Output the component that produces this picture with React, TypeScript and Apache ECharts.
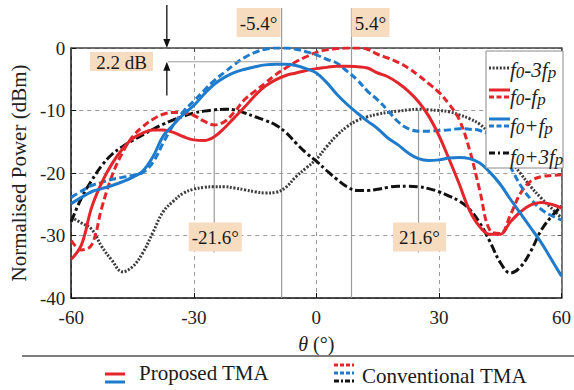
import React, { useEffect, useRef } from "react";
import * as echarts from "echarts";

// Scan angle (degrees)
const theta = [
  -60, -57.5, -55, -52.5, -50, -47.5, -45, -42.5, -40, -37.5, -35, -32.5, -30,
  -27.5, -25, -22.5, -20, -17.5, -15, -12.5, -10, -7.5, -5, -2.5, 0, 2.5, 5,
  7.5, 10, 12.5, 15, 17.5, 20, 22.5, 25, 27.5, 30, 32.5, 35, 37.5, 40, 42.5, 45,
  47.5, 50, 52.5, 55, 57.5, 60,
];

// f0-3fp (gray dotted)
const f0Minus3fp = [
  -27.1, -28, -29, -31.8, -34, -35.8, -35, -32.8, -29.5, -26.2, -24.5, -23.2,
  -22.6, -22.3, -22.2, -22.2, -22.4, -22.7, -23, -23.2, -23.1, -22.3, -20.6,
  -19.2, -17.8, -15.8, -14, -12.6, -11.6, -11, -10.6, -10.3, -10.1, -9.9, -9.8,
  -9.9, -10, -10.2, -10.7, -11.3, -12.2, -13.8, -15.8, -18, -20.1, -22.2, -24,
  -25.6, -27.2,
];

// f0-fp proposed TMA (red solid)
const f0MinusFpProposed = [
  -33.8, -31.5, -25.5, -21.5, -18.5, -16.2, -14.5, -13.6, -13.1, -13.1, -13.5,
  -14.2, -14.7, -14.8, -14.2, -12.8, -11.1, -9.4, -7.6, -6.1, -5.1, -4.4, -4,
  -3.6, -3.3, -3.1, -2.9, -2.9, -3, -3.2, -4, -4.6, -5.6, -6.9, -8.6, -10.9,
  -14, -17.8, -21.8, -26, -28.6, -29.8, -29.8, -27.8, -26.2, -25.1, -24.7, -25,
  -25.6,
];

// f0-fp conventional TMA (red dashed)
const f0MinusFpConventional = [
  -30.8, -32.3, -31.5, -25.5, -20.4, -16.8, -14.2, -12.6, -11.4, -10.6, -10.3,
  -10.4, -10.8, -11.7, -12.3, -11.8, -10.2, -8.2, -6.9, -5.6, -4.3, -3.2, -2.2,
  -1.4, -0.7, -0.3, -0.1, 0, 0, -0.2, -1, -1.6, -2.3, -3.2, -4.4, -5.7, -7.1,
  -9, -11.5, -16.3, -22.8, -29.2, -29.7, -26.7, -23.2, -21.3, -20.6, -20.4,
  -20.3,
];

// f0+fp proposed TMA (blue solid)
const f0PlusFpProposed = [
  -24.9, -23.9, -23, -22.5, -22, -21.4, -20.7, -19.7, -17.4, -14.1, -12.3,
  -10.6, -9.2, -7.4, -5.8, -4.7, -3.9, -3.4, -3, -2.7, -2.6, -2.6, -2.8, -3.3,
  -4, -5.5, -7.4, -9, -10.4, -11.7, -12.9, -14.4, -15.5, -16.8, -17.7, -18,
  -17.9, -17.6, -17.5, -17.7, -18.4, -19.9, -21.8, -24.2, -26.5, -28.8, -31.1,
  -33.8, -36.5,
];

// f0+fp conventional TMA (blue dashed)
const f0PlusFpConventional = [
  -23.9, -22.9, -22, -21.5, -21, -20.7, -20.4, -19.9, -18.3, -15.2, -12.3,
  -10.1, -8.5, -6.8, -5.2, -3.9, -2.6, -1.5, -0.7, -0.2, 0, 0, -0.2, -0.6, -1.1,
  -1.8, -2.4, -3.7, -5.1, -6.9, -8.3, -10, -11.8, -12.9, -13.3, -13.3, -13.2,
  -13.1, -12.9, -13, -13.2, -14, -16, -19, -22, -24.2, -25.8, -26.8, -27.5,
];

// f0+3fp (black dash-dot)
const f0Plus3fp = [
  -27.8, -24, -21.2, -18.8, -17, -15.8, -14.8, -13.9, -13, -12.2, -11.5, -10.9,
  -10.4, -10.1, -9.9, -9.8, -9.9, -10.4, -11, -11.6, -12.3, -13.5, -15.2, -16.8,
  -18.1, -19.6, -21, -22.2, -22.8, -22.8, -22.6, -22.3, -22.1, -22.1, -22.2,
  -22.5, -23, -23.7, -24.5, -25.8, -28, -31, -34.3, -36, -35, -32.5, -29.2, -27,
  -25.3,
];

// Annotation values
const mainBeamAngles = [-8.5, 8.6];
const mainBeamLabels = ["-5.4°", "5.4°"];
const sideAngles = [-25, 25];
const sideLabels = ["-21.6°", "21.6°"];
const gainDiff = -2.2;

const RED = "#e3262b";
const BLUE = "#1f7bcc";
const BLACK = "#111111";
const GRAY = "#3c3c3c";
const SERIF = "Times New Roman";
const PEACH = "#f8dcc0";

const pairs = (ys: number[]) => theta.map((t, i) => [t, ys[i]]);

export default function App() {
  const ref = useRef<HTMLDivElement>(null);
  useEffect(() => {
    const chart = echarts.init(ref.current!, null, { renderer: "svg" });
    const lineSeries = (
      name: string,
      data: number[],
      color: string,
      type: any,
      z: number
    ) => ({
      name,
      type: "line",
      data: pairs(data),
      smooth: 0.4,
      showSymbol: false,
      symbol: "none",
      z,
      lineStyle: { color, width: 3, type, cap: "butt" },
      itemStyle: { color },
    });
    const option: any = {
      animation: false,
      backgroundColor: "#ffffff",
      textStyle: { fontFamily: SERIF },
      grid: { left: 64, right: 10, top: 48, bottom: 92 },
      xAxis: [
        {
          type: "value",
          min: -60,
          max: 60,
          interval: 30,
          name: "{it|θ} (°)",
          nameLocation: "middle",
          nameGap: 36,
          nameTextStyle: {
            fontFamily: SERIF,
            fontSize: 20,
            color: "#222",
            rich: { it: { fontFamily: SERIF, fontSize: 20, fontStyle: "italic", color: "#222" } },
          },
          axisLine: { onZero: false, lineStyle: { color: "#111", width: 1.5 } },
          axisTick: { inside: true, length: 5, lineStyle: { color: "#111" } },
          axisLabel: { fontFamily: SERIF, fontSize: 19, color: "#222", margin: 10 },
          splitLine: { show: true, lineStyle: { color: "#9a9a9a", type: [4, 4], width: 1 } },
        },
        {
          type: "value",
          position: "top",
          min: -60,
          max: 60,
          interval: 30,
          axisLine: { onZero: false, lineStyle: { color: "#444", width: 1.5 } },
          axisTick: { inside: true, length: 4, lineStyle: { color: "#444" } },
          axisLabel: { show: false },
          splitLine: { show: false },
        },
      ],
      yAxis: [
        {
          type: "value",
          min: -40,
          max: 0,
          interval: 10,
          name: "Normalised Power (dBm)",
          nameLocation: "middle",
          nameGap: 40,
          nameTextStyle: { fontFamily: SERIF, fontSize: 21, color: "#222" },
          axisLine: { onZero: false, lineStyle: { color: "#111", width: 1.5 } },
          axisTick: { inside: true, length: 5, lineStyle: { color: "#111" } },
          axisLabel: { fontFamily: SERIF, fontSize: 19, color: "#222", margin: 6 },
          splitLine: { show: true, lineStyle: { color: "#9a9a9a", type: [4, 4], width: 1 } },
        },
        {
          type: "value",
          position: "right",
          min: -40,
          max: 0,
          interval: 10,
          axisLine: { onZero: false, lineStyle: { color: "#555", width: 1.5 } },
          axisTick: { inside: true, length: 4, lineStyle: { color: "#555" } },
          axisLabel: { show: false },
          splitLine: { show: false },
        },
      ],
      series: [
        lineSeries("f0-3fp", f0Minus3fp, GRAY, [2, 1.6], 2),
        lineSeries("f0+3fp", f0Plus3fp, BLACK, [9, 3, 3, 3], 2),
        lineSeries("f0-fp conventional", f0MinusFpConventional, RED, [7, 3.5], 3),
        lineSeries("f0+fp conventional", f0PlusFpConventional, BLUE, [7, 3.5], 3),
        lineSeries("f0-fp proposed", f0MinusFpProposed, RED, "solid", 4),
        lineSeries("f0+fp proposed", f0PlusFpProposed, BLUE, "solid", 4),
      ],
    };
    chart.setOption(option);

    const p = (x: number, y: number) =>
      chart.convertToPixel({ gridIndex: 0 }, [x, y]) as number[];

    const g: any[] = [];
    const annoLine = { stroke: "#9c9c9c", lineWidth: 1.2 };
    const textStyle = (text: string, x: number, y: number, size = 19, align = "center") => ({
      type: "text",
      x,
      y,
      z: 60,
      style: {
        text,
        fontFamily: SERIF,
        fontSize: size,
        fill: "#1a1a1a",
        align,
        verticalAlign: "middle",
        textAlign: align,
        textVerticalAlign: "middle",
      },
    });

    // Main beam markers
    mainBeamAngles.forEach((a, i) => {
      const [xa, yb] = p(a, -40);
      g.push({ type: "line", z: 1, shape: { x1: xa, y1: 8, x2: xa, y2: yb }, style: annoLine });
      const w = i === 0 ? 44 : 38;
      const bx = i === 0 ? xa - w - 1 : xa;
      g.push({ type: "rect", z: 50, shape: { x: bx, y: 8, width: w, height: 29 }, style: { fill: PEACH } });
      g.push(textStyle(mainBeamLabels[i], bx + w / 2, 23));
    });

    // Side-lobe markers
    sideAngles.forEach((a, i) => {
      const [xa, yt] = p(a, -10);
      const [, yl] = p(a, -30);
      g.push({ type: "line", z: 1, shape: { x1: xa, y1: yt, x2: xa, y2: yl + 17 }, style: annoLine });
      const w = 53;
      g.push({ type: "rect", z: 50, shape: { x: xa - w / 2 + 1, y: yl - 13, width: w, height: 29 }, style: { fill: PEACH } });
      g.push(textStyle(sideLabels[i], xa + 1, yl + 1.5));
    });

    // 2.2 dB gain difference annotation
    const [xArrow, y0] = p(-36.6, 0);
    const [, yDiff] = p(-36.6, gainDiff);
    const [, yTail] = p(-36.6, -7.6);
    const [xPeak] = p(mainBeamAngles[0], 0);
    g.push({ type: "line", z: 5, shape: { x1: xArrow + 1, y1: yDiff, x2: xPeak, y2: yDiff }, style: annoLine });
    g.push({ type: "line", z: 5, shape: { x1: xArrow, y1: 5, x2: xArrow, y2: y0 - 7 }, style: { stroke: "#111", lineWidth: 1.3 } });
    g.push({
      type: "polygon",
      z: 5,
      shape: { points: [[xArrow - 3.5, y0 - 9], [xArrow + 3.5, y0 - 9], [xArrow, y0]] },
      style: { fill: "#111" },
    });
    g.push({ type: "line", z: 5, shape: { x1: xArrow, y1: yTail, x2: xArrow, y2: yDiff + 7 }, style: { stroke: "#111", lineWidth: 1.3 } });
    g.push({
      type: "polygon",
      z: 5,
      shape: { points: [[xArrow - 3.5, yDiff + 9], [xArrow + 3.5, yDiff + 9], [xArrow, yDiff]] },
      style: { fill: "#111" },
    });
    g.push({ type: "rect", z: 50, shape: { x: 90, y: 52, width: 63, height: 19 }, style: { fill: PEACH } });
    g.push(textStyle("2.2 dB", 121.5, 62, 19));

    // In-plot legend
    g.push({
      type: "rect",
      z: 70,
      shape: { x: 486, y: 51, width: 77, height: 117 },
      style: { fill: "#ffffff", stroke: "#8a8a8a", lineWidth: 1 },
    });
    const sample = (y: number, color: string, dash: any) => ({
      type: "line",
      z: 71,
      shape: { x1: 489, y1: y, x2: 510, y2: y },
      style: { stroke: color, lineWidth: 3, lineDash: dash },
    });
    g.push(sample(68, GRAY, [2, 1.6]));
    g.push(sample(90, RED, null));
    g.push(sample(97, RED, [5, 2.5]));
    g.push(sample(119, BLUE, null));
    g.push(sample(126, BLUE, [5, 2.5]));
    g.push(sample(153, BLACK, [6, 3, 2, 3]));
    const rich = {
      i: { fontFamily: SERIF, fontSize: 21, fontStyle: "italic", fill: "#222", lineHeight: 22, verticalAlign: "top" },
      s: { fontFamily: SERIF, fontSize: 17, fontStyle: "italic", fill: "#222", lineHeight: 16, padding: [12, 0, 0, 0], verticalAlign: "bottom" },
    };
    const legendText = (parts: string, y: number) => ({
      type: "text",
      z: 72,
      x: 510,
      y,
      style: { text: parts, rich, align: "left", verticalAlign: "middle", textAlign: "left", textVerticalAlign: "middle" },
    });
    g.push(legendText("{i|f}{s|0}{i|-3f}{s|p}", 70));
    g.push(legendText("{i|f}{s|0}{i|-f}{s|p}", 97));
    g.push(legendText("{i|f}{s|0}{i|+f}{s|p}", 126));
    g.push(legendText("{i|f}{s|0}{i|+3f}{s|p}", 157));

    // Bottom legend
    g.push({ type: "line", z: 5, shape: { x1: 22, y1: 356, x2: 574, y2: 356 }, style: { stroke: "#555", lineWidth: 1.5 } });
    const bl = (x1: number, y: number, color: string, dash: any) => ({
      type: "line",
      z: 5,
      shape: { x1, y1: y, x2: x1 + 20, y2: y },
      style: { stroke: color, lineWidth: 3, lineDash: dash },
    });
    g.push(bl(105, 374, RED, null));
    g.push(bl(105, 382, BLUE, null));
    g.push(textStyle("Proposed TMA", 139, 373, 21, "left"));
    g.push(bl(334, 365, RED, [4, 2]));
    g.push(bl(334, 373, BLUE, [4, 2]));
    g.push(bl(334, 381, BLACK, [5, 2, 2, 2]));
    g.push(textStyle("Conventional TMA", 362, 376, 21, "left"));

    chart.setOption({ graphic: g });
    return () => chart.dispose();
  }, []);
  return (
    <div
      ref={ref}
      style={{ position: "fixed", left: 0, top: 0, width: 574, height: 390, background: "#fff" }}
    />
  );
}
